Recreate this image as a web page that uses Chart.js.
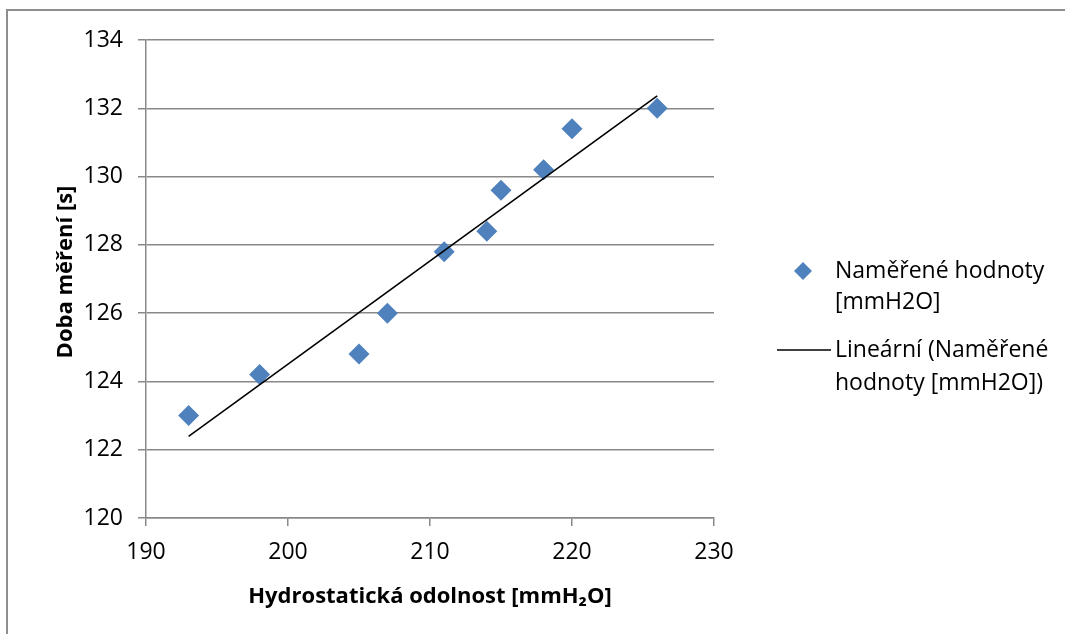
<!DOCTYPE html>
<html lang="cs">
<head>
    <meta charset="UTF-8">
    <title>Doba měření vs. hydrostatická odolnost</title>
    <script src="https://cdn.jsdelivr.net/npm/chart.js@4.4.1/dist/chart.umd.min.js"></script>
    <style>
        body { margin: 0; background: #fff; overflow: hidden; }
        #frame {
            position: absolute; left: 6px; top: 9px; width: 1200px; height: 800px;
            border-left: 2px solid #8e8e8e; border-top: 2px solid #8e8e8e;
        }
        #wrap { position: absolute; left: 0; top: 0; width: 1065px; height: 634px; }
    </style>
</head>
<body>
<div id="frame"></div>
<div id="wrap">
    <canvas id="myChart" width="1065" height="634"></canvas>
</div>

<script>
    // measured values
    const odolnost = [193, 198, 205, 207, 211, 214, 215, 218, 220, 226];
    const doba = [123.0, 124.2, 124.8, 126.0, 127.8, 128.4, 129.6, 130.2, 131.4, 132.0];

    // axis ranges / ticks
    const xTicks = [190, 200, 210, 220, 230];
    const yTicks = [120, 122, 124, 126, 128, 130, 132, 134];

    const seriesName = ['Naměřené hodnoty', '[mmH2O]'];
    const trendName = ['Lineární (Naměřené', 'hodnoty [mmH2O])'];
    const yTitle = 'Doba měření [s]';
    const xTitle = 'Hydrostatická odolnost [mmH₂O]';

    const BLUE = '#4f81bd';
    const GRID = '#898989';
    const FONT = '"Open Sans", "Noto Sans", sans-serif';

    // least squares fit for the trendline
    function linearFit(xs, ys) {
        const n = xs.length;
        const mx = xs.reduce((a, b) => a + b, 0) / n;
        const my = ys.reduce((a, b) => a + b, 0) / n;
        let sxy = 0, sxx = 0;
        for (let i = 0; i < n; i++) {
            sxy += (xs[i] - mx) * (ys[i] - my);
            sxx += (xs[i] - mx) * (xs[i] - mx);
        }
        const k = sxy / sxx;
        return x => my + k * (x - mx);
    }

    const fit = linearFit(odolnost, doba);
    const xMin = Math.min(...odolnost), xMax = Math.max(...odolnost);
    const trend = [{x: xMin, y: fit(xMin)}, {x: xMax, y: fit(xMax)}];
    const points = odolnost.map((x, i) => ({x: x, y: doba[i]}));

    // y title + legend on the right, drawn by hand (two-line labels)
    const extras = {
        id: 'extras',
        afterDraw(chart) {
            const ctx = chart.ctx;
            ctx.save();

            // vertical axis title
            ctx.save();
            ctx.translate(66, 272);
            ctx.rotate(-Math.PI / 2);
            ctx.font = 'bold 22px ' + FONT;
            ctx.fillStyle = '#000';
            ctx.textAlign = 'center';
            ctx.textBaseline = 'middle';
            ctx.fillText(yTitle, 0, 0);
            ctx.restore();

            ctx.font = '23px ' + FONT;
            ctx.fillStyle = '#000';
            ctx.textBaseline = 'middle';
            ctx.textAlign = 'left';

            // marker entry
            ctx.fillStyle = BLUE;
            ctx.beginPath();
            ctx.moveTo(803, 262);
            ctx.lineTo(812, 271);
            ctx.lineTo(803, 280);
            ctx.lineTo(794, 271);
            ctx.closePath();
            ctx.fill();
            ctx.fillStyle = '#000';
            ctx.fillText(seriesName[0], 835, 271);
            ctx.fillText(seriesName[1], 835, 302);

            // trendline entry
            ctx.strokeStyle = '#000';
            ctx.lineWidth = 1.5;
            ctx.beginPath();
            ctx.moveTo(777, 350);
            ctx.lineTo(831, 350);
            ctx.stroke();
            ctx.fillText(trendName[0], 835, 350);
            ctx.fillText(trendName[1], 835, 383);
            ctx.restore();
        }
    };

    const ctx = document.getElementById('myChart');
    const myChart = new Chart(ctx, {
        type: 'scatter',
        data: {
            datasets: [{
                label: seriesName.join(' '),
                data: points,
                pointStyle: 'rectRot',
                pointRadius: 10.5,
                pointHoverRadius: 10.5,
                backgroundColor: BLUE,
                borderColor: BLUE,
                borderWidth: 0,
                order: 2
            }, {
                label: trendName.join(' '),
                type: 'line',
                data: trend,
                borderColor: '#000',
                borderWidth: 1.6,
                pointRadius: 0,
                fill: false,
                order: 1
            }]
        },
        options: {
            responsive: false,
            animation: false,
            devicePixelRatio: 1,
            layout: {padding: {left: 0, top: 40, right: 351, bottom: 0}},
            plugins: {
                legend: {display: false},
                tooltip: {enabled: false}
            },
            scales: {
                x: {
                    type: 'linear',
                    min: xTicks[0],
                    max: xTicks[xTicks.length - 1],
                    afterBuildTicks: s => { s.ticks = xTicks.map(v => ({value: v})); },
                    afterFit: s => { s.height = 116; },
                    ticks: {color: '#000', font: {family: FONT, size: 23}, padding: 13},
                    grid: {drawOnChartArea: false, drawTicks: true, tickLength: 8, color: GRID, lineWidth: 1.5},
                    border: {color: GRID, width: 1.5},
                    title: {
                        display: true,
                        text: xTitle,
                        color: '#000',
                        font: {family: FONT, size: 22, weight: 'bold'},
                        padding: {top: 0, bottom: 24}
                    }
                },
                y: {
                    min: yTicks[0],
                    max: yTicks[yTicks.length - 1],
                    afterBuildTicks: s => { s.ticks = yTicks.map(v => ({value: v})); },
                    afterFit: s => { s.width = 146; },
                    ticks: {color: '#000', font: {family: FONT, size: 23}, padding: 15},
                    grid: {drawTicks: true, tickLength: 8, color: GRID, lineWidth: 1.5},
                    border: {color: GRID, width: 1.5}
                }
            }
        },
        plugins: [extras]
    });
</script>
</body>
</html>
